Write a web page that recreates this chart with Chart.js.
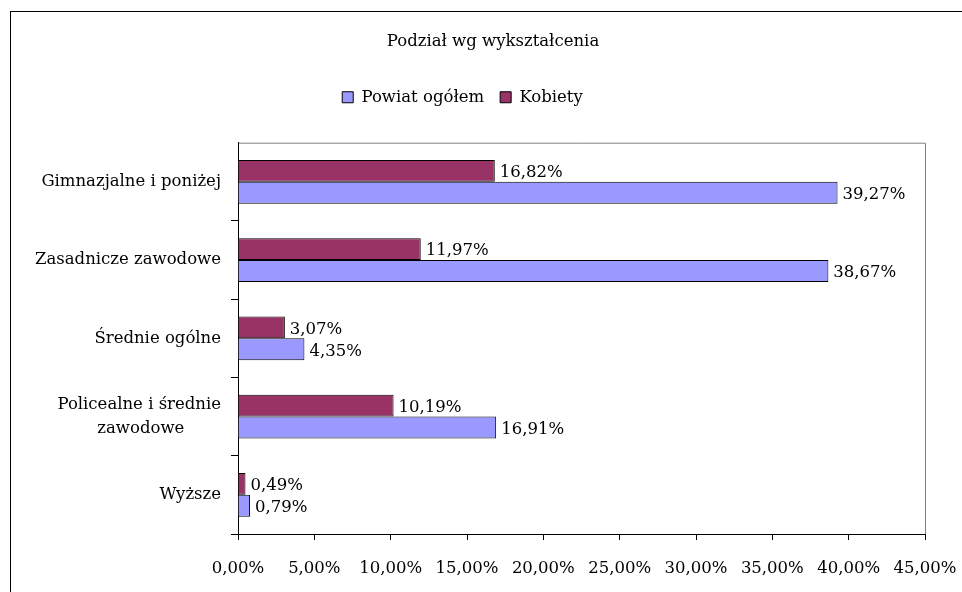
<!DOCTYPE html>
<html>
<head>
<meta charset="utf-8">
<script src="https://cdn.jsdelivr.net/npm/chart.js@4"></script>
<style>
  html, body { margin: 0; padding: 0; background: #fff; }
  #wrap { width: 962px; height: 592px; }
</style>
</head>
<body>
<div id="wrap"><canvas id="eduChart" width="962" height="592"></canvas></div>
<script>
// Podział wg wykształcenia
const chartTitle = "Podział wg wykształcenia";
const categories = [
  "Gimnazjalne i poniżej",
  "Zasadnicze zawodowe",
  "Średnie ogólne",
  ["Policealne i średnie", "zawodowe       "],
  "Wyższe",
];
const kobietyValues = [16.82, 11.97, 3.07, 10.19, 0.49];
const powiatValues = [39.27, 38.67, 4.35, 16.91, 0.79];
const seriesNames = ["Kobiety", "Powiat ogółem"];

const FONT = "'DejaVu Serif', serif";
const SIZE = 16.5;

function pct(v) {
  return v.toFixed(2).replace(".", ",") + "%";
}

// outer frame, title, plot area border
const framePlugin = {
  id: "frame",
  beforeDraw(chart) {
    const ctx = chart.ctx;
    const a = chart.chartArea;
    ctx.save();
    ctx.strokeStyle = "#000";
    ctx.lineWidth = 1;
    ctx.strokeRect(10.5, 11.5, 1000, 700);
    ctx.strokeStyle = "#808080";
    ctx.beginPath();
    ctx.moveTo(a.left, a.top + 0.5);
    ctx.lineTo(a.right + 0.5, a.top + 0.5);
    ctx.lineTo(a.right + 0.5, a.bottom);
    ctx.stroke();
    // title sits a bit right of the legend in the original
    ctx.font = SIZE + "px " + FONT;
    ctx.fillStyle = "#000";
    ctx.textAlign = "center";
    ctx.textBaseline = "middle";
    ctx.fillText(chartTitle, 493, 42);
    ctx.restore();
  },
};

// value labels at bar ends
const valueLabels = {
  id: "valueLabels",
  afterDatasetsDraw(chart) {
    const ctx = chart.ctx;
    ctx.save();
    ctx.font = SIZE + "px " + FONT;
    ctx.fillStyle = "#000";
    ctx.textAlign = "left";
    ctx.textBaseline = "middle";
    chart.data.datasets.forEach((ds, i) => {
      chart.getDatasetMeta(i).data.forEach((bar, j) => {
        ctx.fillText(pct(ds.data[j]), bar.x + 5, bar.y + 2);
      });
    });
    ctx.restore();
  },
};

new Chart(document.getElementById("eduChart"), {
  type: "bar",
  data: {
    labels: categories,
    datasets: [
      {
        label: seriesNames[0],
        data: kobietyValues,
        backgroundColor: "#993366",
        borderColor: "#000",
        borderWidth: 1,
      },
      {
        label: seriesNames[1],
        data: powiatValues,
        backgroundColor: "#9999FF",
        borderColor: "#000",
        borderWidth: 1,
      },
    ],
  },
  options: {
    indexAxis: "y",
    responsive: false,
    animation: false,
    maintainAspectRatio: false,
    layout: { padding: { left: 0, right: 37, top: 73, bottom: 0 } },
    datasets: {
      bar: { categoryPercentage: 0.56, barPercentage: 1 },
    },
    plugins: {
      title: { display: false },
      legend: {
        reverse: true,
        labels: {
          color: "#000",
          font: { family: FONT, size: SIZE },
          boxWidth: 11,
          boxHeight: 11,
          padding: 16,
        },
      },
      // empty band between legend and plot area
      subtitle: {
        display: true,
        text: "",
        weight: 500,
        font: { size: 1 },
        padding: { top: 26, bottom: 0 },
      },
      tooltip: { enabled: false },
    },
    scales: {
      x: {
        min: 0,
        max: 45,
        ticks: {
          stepSize: 5,
          color: "#000",
          font: { family: FONT, size: SIZE },
          padding: 19,
          maxRotation: 0,
          callback: (v) => pct(v),
        },
        grid: { drawOnChartArea: false, tickLength: 6, color: "#000" },
        border: { color: "#000" },
        afterFit(scale) {
          scale.height = 58;
          scale.paddingRight = 0;
        },
      },
      y: {
        ticks: {
          color: "#000",
          font: { family: FONT, size: SIZE, lineHeight: 1.5 },
          padding: 10,
        },
        grid: {
          drawOnChartArea: false,
          tickLength: 7,
          offset: true,
          // no tick mark at the very top of the axis
          color: (c) => (c.index === 0 ? "rgba(0,0,0,0)" : "#000"),
        },
        border: { color: "#000" },
        afterFit(scale) { scale.width = 238; },
      },
    },
  },
  plugins: [framePlugin, valueLabels],
});
</script>
</body>
</html>
